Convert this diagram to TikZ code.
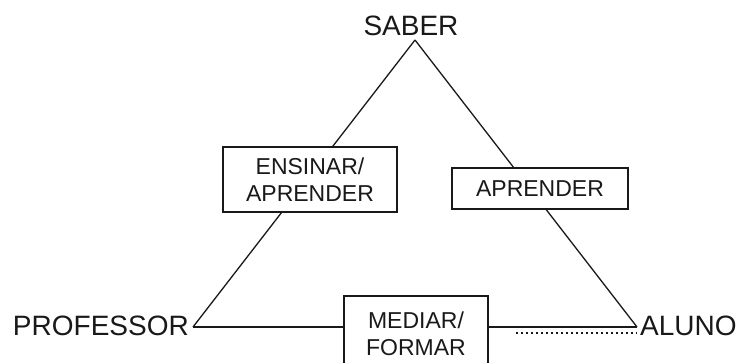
\documentclass[tikz,border=0pt]{standalone}
\usepackage{fontspec}
\setmainfont{Liberation Sans}
\begin{document}
\begin{tikzpicture}[x=1pt,y=-1pt,
  edge/.style={draw=black!90, line width=1.3pt},
  vlabel/.style={inner sep=0pt, font=\fontsize{28}{32}\selectfont, text=black!90},
  boxnode/.style={draw=black!90, line width=1.3pt, fill=white, inner sep=0pt, align=center,
     font=\fontsize{23}{26.5}\selectfont, text=black!90}]
\clip (0,0) rectangle (742,362);
\fill[white] (0,0) rectangle (742,362);
% vertices
\coordinate (top) at (415,40);
\coordinate (lv) at (193,327);
\coordinate (rv) at (637,327);
\coordinate (dotstart) at (516,333);
\coordinate (dotend) at (637,333);
% edges
\draw[edge] (top) -- (lv);
\draw[edge] (top) -- (rv);
\draw[edge] (lv) -- (rv);
\draw[black!90, line width=1.4pt, dash pattern=on 1.6pt off 3.4pt] (dotstart) -- (dotend);
% labels
\node[vlabel, anchor=base] (saber) at (411,35) {SABER};
\node[vlabel, anchor=base east] (prof) at (189,335) {PROFESSOR};
\node[vlabel, anchor=base west] (aluno) at (640,335) {ALUNO};
% boxes
\node[boxnode, minimum width=174pt, minimum height=65pt] (ens) at (310,179.5) {ENSINAR/\\APRENDER};
\node[boxnode, minimum width=176pt, minimum height=41pt] (apr) at (540,188.5) {APRENDER};
\node[boxnode, minimum width=144pt, minimum height=76pt] (med) at (416,334) {MEDIAR/\\FORMAR};
\end{tikzpicture}
\end{document}
